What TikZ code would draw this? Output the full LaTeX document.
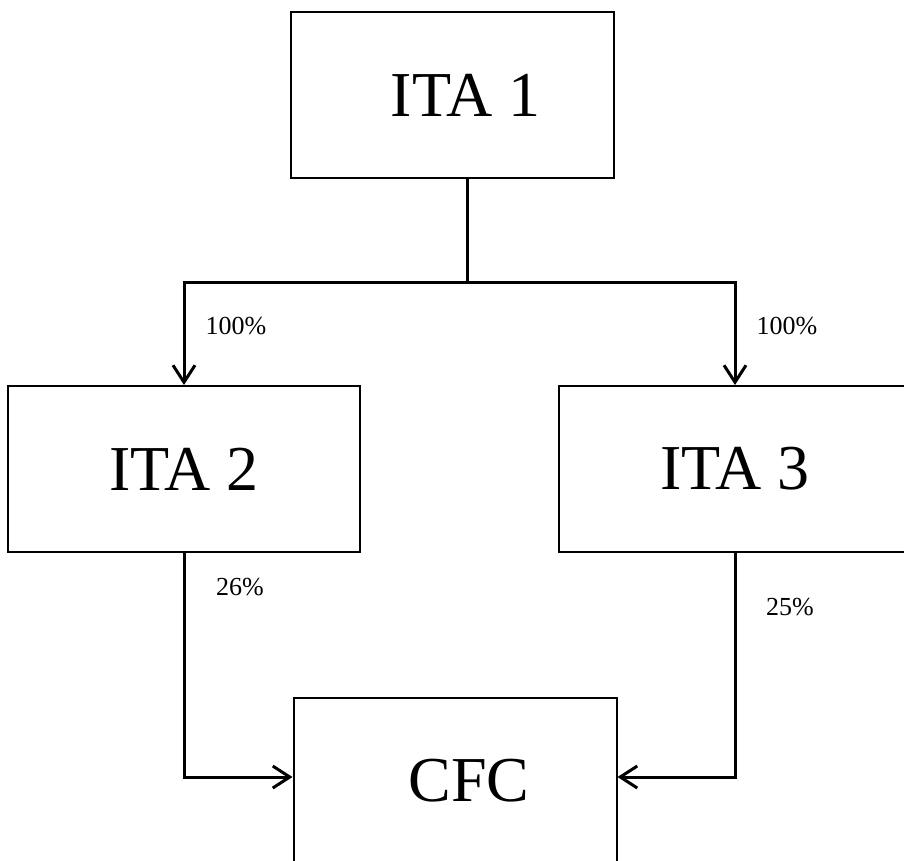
\documentclass[tikz,border=0pt]{standalone}
\usepackage{fontspec}
\setmainfont{Liberation Serif}
\usetikzlibrary{arrows.meta}
\tikzset{
  box/.style={shape=rectangle, draw=black, line width=2pt, minimum width=323pt, minimum height=166pt, inner sep=0pt, font=\fontsize{64}{64}\selectfont},
  widebox/.style={box, minimum width=352pt},
  link/.style={line width=3pt},
  flow/.style={link, -{Straight Barb[length=17pt,width=22pt,line width=3pt]}},
  share/.style={font=\fontsize{26}{26}\selectfont, inner sep=0pt}
}
\begin{document}
\begin{tikzpicture}[x=1pt,y=-1pt]
    \useasboundingbox (0,0) rectangle (904,860);
    \node[box] (ita1) at (452.5,95) {\hspace*{26pt}ITA 1};
    \node[widebox] (ita2) at (184,469) {ITA 2};
    \node[widebox] (ita3) at (735,469) {ITA 3};
    \node[box] (cfc) at (455,781) {\hspace*{28pt}CFC};
    \coordinate (split) at (467,282);

    \draw[link] ([xshift=14.5pt]ita1.south) -- (split);
    \draw[flow] (split) -| (ita2.north);
    \draw[flow] (split) -| (ita3.north);
    \draw[flow] (ita2.south) |- ([yshift=4pt]cfc.west);
    \draw[flow] (ita3.south) |- ([yshift=4pt]cfc.east);

    \node[share] (s12) at (236,326) {100\%};
    \node[share] (s13) at (787,326) {100\%};
    \node[share] (s2c) at (240,587) {26\%};
    \node[share] (s3c) at (790,607) {25\%};
\end{tikzpicture}
\end{document}
